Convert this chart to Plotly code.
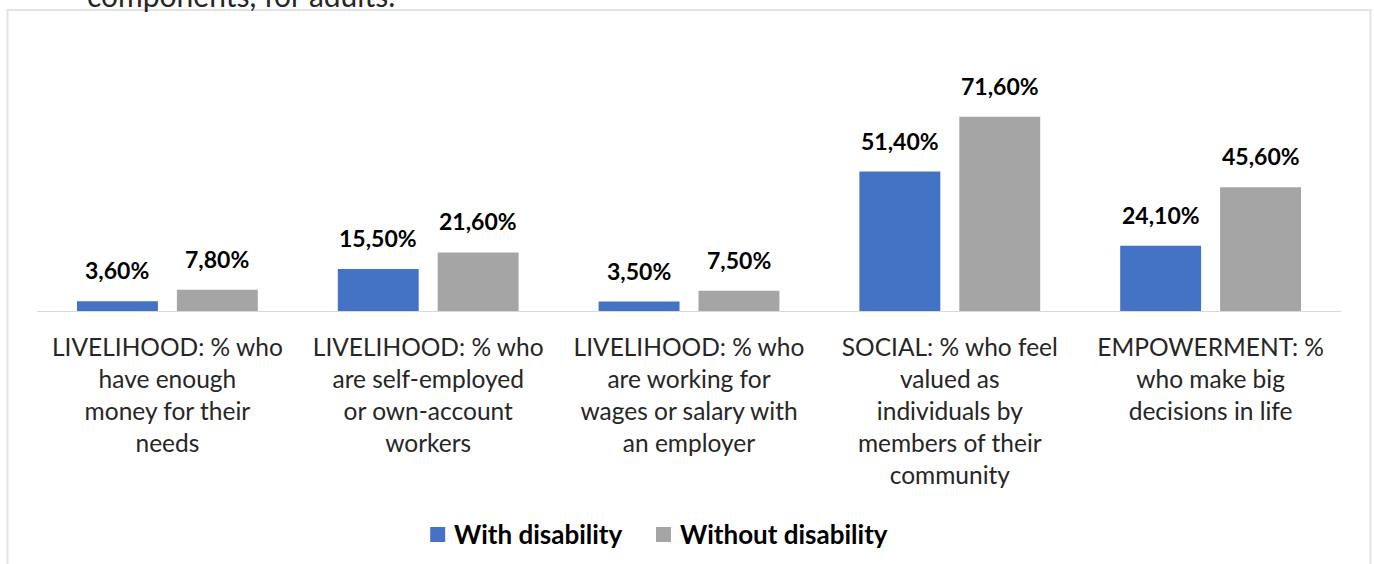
import plotly.graph_objects as go

# Category labels (line breaks as they wrap under each group)
categories = [
    "LIVELIHOOD: % who<br>have enough<br>money for their<br>needs",
    "LIVELIHOOD: % who<br>are self-employed<br>or own-account<br>workers",
    "LIVELIHOOD: % who<br>are working for<br>wages or salary with<br>an employer",
    "SOCIAL: % who feel<br>valued as<br>individuals by<br>members of their<br>community",
    "EMPOWERMENT: %<br>who make big<br>decisions in life",
]
with_disability = [3.6, 15.5, 3.5, 51.4, 24.1]
without_disability = [7.8, 21.6, 7.5, 71.6, 45.6]
series_names = ["With disability", "Without disability"]

BLUE = "#4472c4"
GRAY = "#a5a5a5"
FONT = "Lato"

W, H = 1374, 564
L, R, T, B = 36.5, 32.5, 94, 253
plot_w = W - L - R
plot_h = H - T - B


def px_x(p):
    return (p - L) / plot_w


def px_y(p):
    return (H - B - p) / plot_h


fig = go.Figure()
fig.add_trace(go.Bar(x=categories, y=with_disability, name=series_names[0],
                     marker=dict(color=BLUE, line=dict(width=0))))
fig.add_trace(go.Bar(x=categories, y=without_disability, name=series_names[1],
                     marker=dict(color=GRAY, line=dict(width=0))))


def fmt(v):
    return f"{v:.2f}".replace(".", ",") + "%"


annotations = []
for vals, shift in ((with_disability, -50), (without_disability, 50)):
    for cat, v in zip(categories, vals):
        annotations.append(dict(
            x=cat, y=v, xref="x", yref="y", xshift=shift, yshift=15,
            text="<b>" + fmt(v) + "</b>", showarrow=False,
            yanchor="bottom", xanchor="center",
            font=dict(family=FONT, size=23, color="#000000"),
        ))

# Heading line partly visible above the chart frame
annotations.append(dict(
    x=px_x(85), y=px_y(15), xref="paper", yref="paper",
    text="components, for adults.", showarrow=False,
    xanchor="left", yanchor="bottom",
    font=dict(family=FONT, size=30, color="#262626"),
))

# Legend: a colour key square followed by the series name
shapes = []
legend_items = [(series_names[0], BLUE, 430), (series_names[1], GRAY, 656)]
for name, color, left in legend_items:
    shapes.append(dict(
        type="rect", xref="paper", yref="paper",
        x0=px_x(left), x1=px_x(left + 15), y0=px_y(542), y1=px_y(527),
        line=dict(width=0), fillcolor=color,
    ))
    annotations.append(dict(
        x=px_x(left + 22), y=px_y(534), xref="paper", yref="paper",
        text="<b>" + name + "</b>", showarrow=False,
        xanchor="left", yanchor="middle",
        font=dict(family=FONT, size=26, color="#000000"),
    ))

# Chart frame
shapes.append(dict(
    type="rect", xref="paper", yref="paper",
    x0=px_x(7), x1=px_x(1371), y0=px_y(620), y1=px_y(10),
    line=dict(color="#e0e4ea", width=2), fillcolor="rgba(0,0,0,0)",
    layer="below",
))

fig.update_layout(
    width=W, height=H, autosize=False,
    margin=dict(l=L, r=R, t=T, b=B, pad=0),
    paper_bgcolor="white", plot_bgcolor="white",
    barmode="group", bargap=0.234, bargroupgap=0.19,
    annotations=annotations,
    shapes=shapes,
    showlegend=False,
)

fig.update_xaxes(
    automargin=False,
    showline=True, linecolor="#d9d9d9", linewidth=1,
    showgrid=False, ticks="", ticklabelstandoff=15,
    tickfont=dict(family=FONT, size=24.5, color="#262626"),
    tickangle=0,
)
fig.update_yaxes(range=[0, 80], visible=False, showgrid=False, automargin=False)

fig.write_html("out.html")
